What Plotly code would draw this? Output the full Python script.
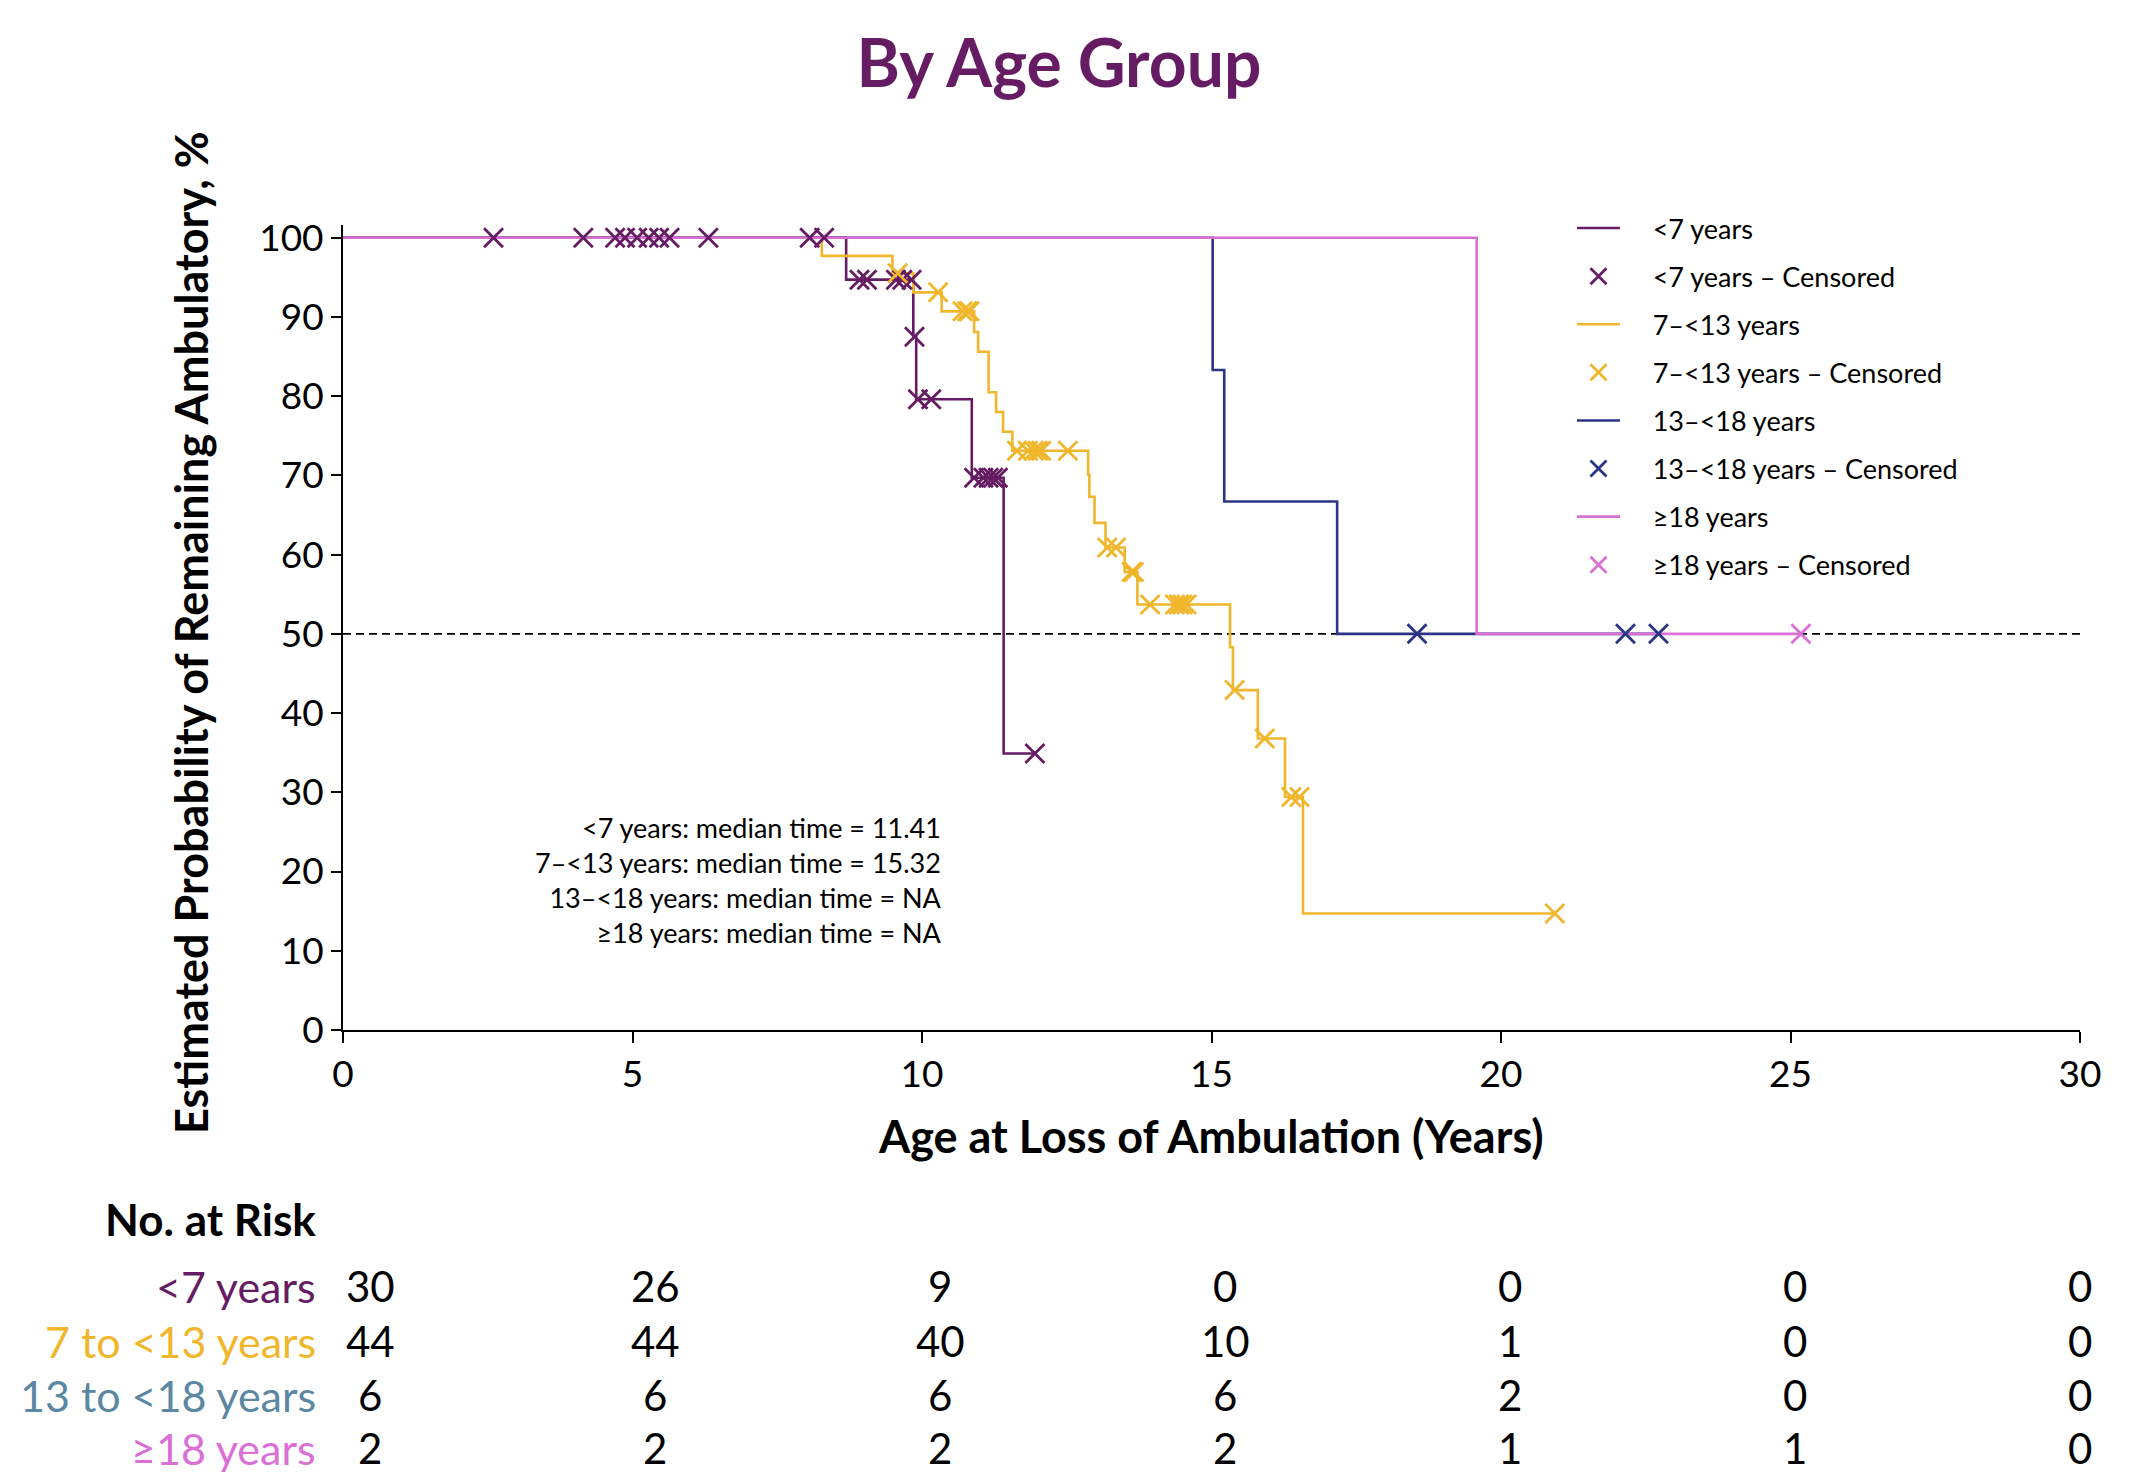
import numpy as np
import plotly.graph_objects as go

# ---------------- data ----------------
times_tick = [0, 5, 10, 15, 20, 25, 30]
y_ticks = [0, 10, 20, 30, 40, 50, 60, 70, 80, 90, 100]

group_names = ["<7 years", "7\u2013<13 years", "13\u2013<18 years", "\u226518 years"]
group_colors = ["#651C63", "#F0B62C", "#2B3585", "#DA70D6"]

# Kaplan-Meier step curves (event times and survival after each step, %)
lt7_time = [0, 8.69, 9.85, 9.90, 10.86, 11.41]
lt7_surv = [100, 94.7, 87.5, 79.6, 69.7, 34.9]
lt7_end = 11.95
lt7_cens = [2.6, 4.15, 4.7, 4.87, 5.08, 5.28, 5.46, 5.64, 6.31, 8.06, 8.31,
            8.92, 9.05, 9.55, 9.66, 9.82, 9.87, 9.93, 10.16,
            10.9, 11.06, 11.15, 11.23, 11.31, 11.95]

g713_time = [0, 8.27, 9.49, 9.85, 10.34, 10.90, 10.97, 11.15, 11.28, 11.40, 11.56,
             12.87, 12.89, 12.98, 13.17, 13.50, 13.72, 15.32, 15.37, 15.80, 16.27, 16.58]
g713_surv = [100, 97.7, 95.5, 93.1, 90.7, 88.1, 85.6, 80.5, 78.0, 75.5, 73.1,
             70.1, 67.3, 64.0, 60.9, 57.8, 53.7, 48.3, 42.9, 36.8, 29.4, 14.7]
g713_end = 20.93
g713_cens = [9.58, 10.28, 10.70, 10.78, 10.82, 11.64, 11.83, 11.93, 12.00, 12.06, 12.52,
             13.20, 13.35, 13.62, 13.66, 13.94, 14.37, 14.44, 14.50, 14.57,
             15.40, 15.92, 16.38, 16.52, 20.93]

g1318_time = [0, 15.02, 15.22, 17.17]
g1318_surv = [100, 83.3, 66.7, 50.0]
g1318_end = 22.72
g1318_cens = [18.55, 22.15, 22.72]

ge18_time = [0, 19.58]
ge18_surv = [100, 50.0]
ge18_end = 25.18
ge18_cens = [25.18]

median_lines = ["<7 years: median time = 11.41",
                "7\u2013<13 years: median time = 15.32",
                "13\u2013<18 years: median time = NA",
                "\u226518 years: median time = NA"]

risk_labels = ["<7 years", "7 to <13 years", "13 to <18 years", "\u226518 years"]
risk_label_colors = ["#651C63", "#F0B62C", "#5B87A2", "#DA70D6"]
risk_lt7 = [30, 26, 9, 0, 0, 0, 0]
risk_g713 = [44, 44, 40, 10, 1, 0, 0]
risk_g1318 = [6, 6, 6, 6, 2, 0, 0]
risk_ge18 = [2, 2, 2, 2, 1, 1, 0]

# ---------------- layout constants ----------------
OFF = 8                      # default page body margin
W, H = 2143 - OFF, 1476 - OFF
L, R, T, B = 343 - OFF, 63, 225 - OFF, 446
PW, PH = W - L - R, H - T - B
FONT = "Lato"


def pxx(px):
    """screen x pixel -> paper x"""
    return (px - OFF - L) / PW


def pxy(py):
    """screen y pixel -> paper y"""
    return (H - B - (py - OFF)) / PH


groups = [
    (lt7_time, lt7_surv, lt7_end, lt7_cens),
    (g713_time, g713_surv, g713_end, g713_cens),
    (g1318_time, g1318_surv, g1318_end, g1318_cens),
    (ge18_time, ge18_surv, ge18_end, ge18_cens),
]

fig = go.Figure()

# dashed 50% reference line
fig.add_shape(type="line", xref="x", yref="y", x0=0, x1=30, y0=50, y1=50,
              line=dict(color="black", width=1.6, dash="8px,5px"), layer="below")

PAD = "\u00a0" * 4

# curves
for i, (tt, ss, te, cc) in enumerate(groups):
    fig.add_trace(go.Scatter(
        x=list(tt) + [te], y=list(ss) + [ss[-1]], mode="lines",
        line=dict(color=group_colors[i], width=2.6, shape="hv"),
        name=PAD + group_names[i], legendgroup=f"g{2 * i}", legendrank=10 * i + 1,
        hoverinfo="skip"))

# censored marks
for i, (tt, ss, te, cc) in enumerate(groups):
    idx = np.searchsorted(np.array(tt), np.array(cc), side="right") - 1
    cy = np.array(ss)[idx]
    fig.add_trace(go.Scatter(
        x=cc, y=cy, mode="markers",
        marker=dict(symbol="x-thin", size=19, color=group_colors[i],
                    line=dict(width=2.8, color=group_colors[i])),
        name=PAD + group_names[i] + " \u2013 Censored", legendgroup=f"g{2 * i + 1}",
        legendrank=10 * i + 2, hoverinfo="skip"))

# axis line extension left of origin
fig.add_shape(type="line", xref="paper", yref="paper", x0=-10 / PW, x1=0, y0=0, y1=0,
              line=dict(color="black", width=2))

annotations = []
annotations.append(dict(text="<b>Estimated Probability of Remaining Ambulatory, %</b>",
                        xref="paper", yref="paper", x=pxx(191), y=pxy(633),
                        textangle=-90, showarrow=False, xanchor="center", yanchor="middle",
                        font=dict(family=FONT, size=45, color="black")))
annotations.append(dict(text="<b>Age at Loss of Ambulation (Years)</b>",
                        xref="paper", yref="paper", x=pxx(1211), y=pxy(1136),
                        showarrow=False, xanchor="center", yanchor="middle",
                        font=dict(family=FONT, size=45, color="black")))
annotations.append(dict(text="<br>".join(median_lines), xref="paper", yref="paper",
                        x=pxx(944), y=pxy(880), xanchor="right", yanchor="middle",
                        align="right", showarrow=False,
                        font=dict(family=FONT, size=27, color="black")))
annotations.append(dict(text="<b>No. at Risk</b>", xref="paper", yref="paper",
                        x=pxx(318), y=pxy(1219), xanchor="right", yanchor="middle",
                        showarrow=False, font=dict(family=FONT, size=44, color="black")))
risk_rows = [risk_lt7, risk_g713, risk_g1318, risk_ge18]
row_y = [1286, 1341, 1395, 1448]
for r, (lab, col, vals) in enumerate(zip(risk_labels, risk_label_colors, risk_rows)):
    annotations.append(dict(text=lab, xref="paper", yref="paper", x=pxx(318), y=pxy(row_y[r]),
                            xanchor="right", yanchor="middle", showarrow=False,
                            font=dict(family=FONT, size=43, color=col)))
    for t, v in zip(times_tick, vals):
        xpx = 370.4 + 57.0 * t
        annotations.append(dict(text=str(v), xref="paper", yref="paper", x=pxx(xpx),
                                y=pxy(row_y[r]), xanchor="center", yanchor="middle",
                                showarrow=False,
                                font=dict(family=FONT, size=42, color="black")))

fig.update_layout(
    width=W, height=H,
    margin=dict(l=L, r=R, t=T, b=B, autoexpand=False),
    paper_bgcolor="white", plot_bgcolor="white",
    title=dict(text="<b>By Age Group</b>", x=(1059 - OFF) / W, xanchor="center",
               y=1 - (64 - OFF) / H, yanchor="middle", yref="container",
               font=dict(family=FONT, size=66, color="#651C63")),
    xaxis=dict(range=[0, 30], tickvals=times_tick, ticks="outside", ticklen=11,
               tickwidth=2, tickcolor="black", showline=True, linewidth=2,
               linecolor="black", showgrid=False, zeroline=False,
               tickfont=dict(family=FONT, size=37, color="black")),
    yaxis=dict(range=[0, 101.6], tickvals=y_ticks, ticks="outside", ticklen=10,
               tickwidth=2, tickcolor="black", showline=True, linewidth=2,
               linecolor="black", showgrid=False, zeroline=False,
               tickfont=dict(family=FONT, size=37, color="black")),
    legend=dict(x=pxx(1572), y=pxy(204), xanchor="left", yanchor="top",
                font=dict(family=FONT, size=27, color="black"),
                tracegroupgap=10, itemwidth=43, bgcolor="rgba(0,0,0,0)",
                traceorder="grouped"),
    annotations=annotations,
    showlegend=True,
)

fig.write_html("out.html")
